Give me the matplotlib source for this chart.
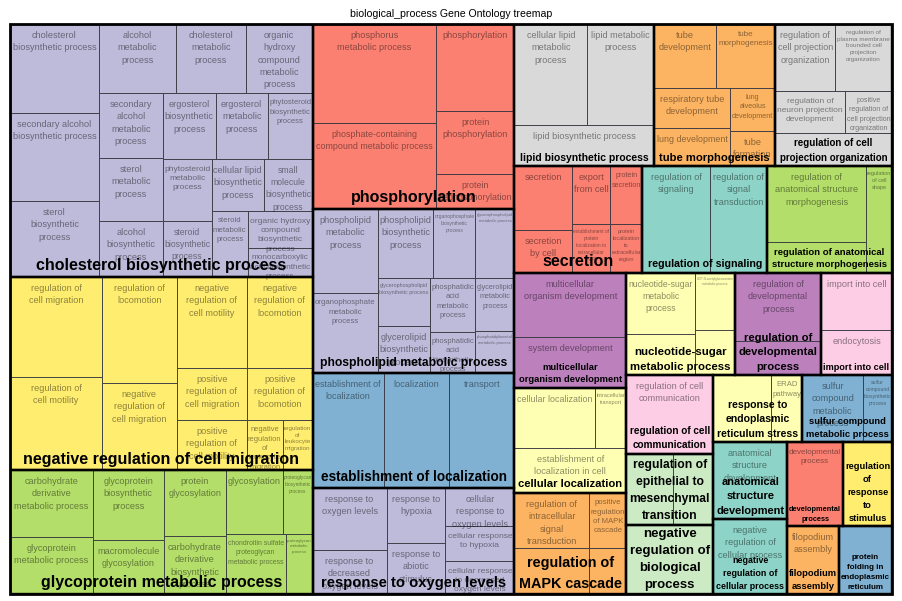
import matplotlib
matplotlib.use("Agg")
import matplotlib.pyplot as plt
from matplotlib.patches import Rectangle

plt.rcParams['font.family'] = ['Liberation Sans', 'DejaVu Sans']

# ---- data -------------------------------------------------------------
title = "biological_process Gene Ontology treemap"

group_labels = [
    "cholesterol biosynthetic process",
    "negative regulation of cell migration",
    "glycoprotein metabolic process",
    "phosphorylation",
    "phospholipid metabolic process",
    "establishment of localization",
    "response to oxygen levels",
    "lipid biosynthetic process",
    "tube morphogenesis",
    "regulation of cell\nprojection organization",
    "secretion",
    "regulation of signaling",
    "regulation of anatomical\nstructure morphogenesis",
    "multicellular\norganism development",
    "cellular localization",
    "regulation of\nMAPK cascade",
    "nucleotide-sugar\nmetabolic process",
    "regulation of\ndevelopmental\nprocess",
    "import into cell",
    "regulation of cell\ncommunication",
    "regulation of\nepithelial to\nmesenchymal\ntransition",
    "negative\nregulation of\nbiological\nprocess",
    "response to\nendoplasmic\nreticulum stress",
    "sulfur compound\nmetabolic process",
    "anatomical\nstructure\ndevelopment",
    "negative\nregulation of\ncellular process",
    "developmental\nprocess",
    "regulation\nof\nresponse\nto\nstimulus",
    "filopodium\nassembly",
    "protein\nfolding in\nendoplasmic\nreticulum",
]

term_labels = [
    ["cholesterol\nbiosynthetic process", "secondary alcohol\nbiosynthetic process",
     "sterol\nbiosynthetic\nprocess", "alcohol\nmetabolic\nprocess",
     "cholesterol\nmetabolic\nprocess", "organic\nhydroxy\ncompound\nmetabolic\nprocess",
     "secondary\nalcohol\nmetabolic\nprocess", "sterol\nmetabolic\nprocess",
     "alcohol\nbiosynthetic\nprocess", "ergosterol\nbiosynthetic\nprocess",
     "ergosterol\nmetabolic\nprocess", "phytosteroid\nbiosynthetic\nprocess",
     "phytosteroid\nmetabolic\nprocess", "steroid\nbiosynthetic\nprocess",
     "cellular lipid\nbiosynthetic\nprocess", "small\nmolecule\nbiosynthetic\nprocess",
     "steroid\nmetabolic\nprocess", "organic hydroxy\ncompound\nbiosynthetic\nprocess",
     "monocarboxylic\nacid biosynthetic\nprocess"],
    ["regulation of\ncell migration", "regulation of\ncell motility",
     "regulation of\nlocomotion", "negative\nregulation of\ncell migration",
     "negative\nregulation of\ncell motility", "negative\nregulation of\nlocomotion",
     "positive\nregulation of\ncell migration", "positive\nregulation of\nlocomotion",
     "positive\nregulation of\ncell motility", "negative\nregulation\nof\nleukocyte\nmigration",
     "regulation\nof\nleukocyte\nmigration"],
    ["carbohydrate\nderivative\nmetabolic process", "glycoprotein\nmetabolic process",
     "glycoprotein\nbiosynthetic\nprocess", "macromolecule\nglycosylation",
     "protein\nglycosylation", "carbohydrate\nderivative\nbiosynthetic\nprocess",
     "glycosylation", "proteoglycan\nbiosynthetic\nprocess",
     "chondroitin sulfate\nproteoglycan\nmetabolic process", "proteoglycan\nmetabolic\nprocess"],
    ["phosphorus\nmetabolic process", "phosphate-containing\ncompound metabolic process",
     "phosphorylation", "protein\nphosphorylation", "protein\ndephosphorylation"],
    ["phospholipid\nmetabolic\nprocess", "organophosphate\nmetabolic\nprocess",
     "phospholipid\nbiosynthetic\nprocess", "organophosphate\nbiosynthetic\nprocess",
     "glycerophospholipid\nmetabolic process", "glycerophospholipid\nbiosynthetic process",
     "glycerolipid\nbiosynthetic\nprocess", "phosphatidic\nacid\nmetabolic\nprocess",
     "phosphatidic\nacid\nbiosynthetic\nprocess", "glycerolipid\nmetabolic\nprocess",
     "phosphatidylinositol\nmetabolic process"],
    ["establishment of\nlocalization", "localization", "transport"],
    ["response to\noxygen levels", "response to\ndecreased\noxygen levels",
     "response to\nhypoxia", "response to\nabiotic\nstimulus",
     "cellular\nresponse to\noxygen levels", "cellular response\nto hypoxia",
     "cellular response\nto decreased\noxygen levels"],
    ["cellular lipid\nmetabolic\nprocess", "lipid metabolic\nprocess", "lipid biosynthetic process"],
    ["tube\ndevelopment", "tube\nmorphogenesis", "respiratory tube\ndevelopment",
     "lung development", "lung\nalveolus\ndevelopment", "tube\nformation"],
    ["regulation of\ncell projection\norganization",
     "regulation of\nplasma membrane\nbounded cell\nprojection\norganization",
     "regulation of\nneuron projection\ndevelopment",
     "positive\nregulation of\ncell projection\norganization", ""],
    ["secretion", "secretion\nby cell", "export\nfrom cell",
     "establishment of\nprotein\nlocalization to\nextracellular\nregion",
     "protein\nsecretion", "protein\nlocalization\nto\nextracellular\nregion"],
    ["regulation of\nsignaling", "regulation of\nsignal\ntransduction"],
    ["regulation of\nanatomical structure\nmorphogenesis", "", "regulation\nof cell\nshape"],
    ["multicellular\norganism development", "system development"],
    ["cellular localization", "intracellular\ntransport", "establishment of\nlocalization in cell"],
    ["regulation of\nintracellular\nsignal\ntransduction", "",
     "positive\nregulation\nof MAPK\ncascade", ""],
    ["nucleotide-sugar\nmetabolic\nprocess", "",
     "UDP-N-acetylglucosamine\nmetabolic process", ""],
    ["regulation of\ndevelopmental\nprocess", ""],
    ["import into cell", "endocytosis"],
    ["regulation of cell\ncommunication"],
    ["", ""],
    [""],
    ["", "ERAD\npathway"],
    ["sulfur\ncompound\nmetabolic\nprocess", "sulfur\ncompound\nbiosynthetic\nprocess"],
    ["anatomical\nstructure\ndevelopment"],
    ["negative\nregulation of\ncellular process"],
    ["developmental\nprocess"],
    [""],
    ["filopodium\nassembly"],
    [""],
]

term_sizes = [
    [79.2, 78.3, 67.6, 53.1, 48.3, 46.2, 41.6, 40.3, 35.8, 35.0, 34.3, 29.7,
     30.4, 27.4, 27.0, 25.5, 23.8, 24.1, 18.9],
    [92.0, 85.6, 79.5, 65.3, 63.7, 60.1, 36.4, 34.3, 35.0, 18.0, 15.0],
    [55.6, 47.3, 49.7, 38.3, 40.9, 36.0, 36.5, 19.2, 36.0, 16.2],
    [122.8, 106.6, 67.9, 49.1, 27.3],
    [54.6, 52.0, 38.6, 29.0, 26.9, 25.4, 24.9, 24.3, 18.5, 20.7, 16.4],
    [81.7, 75.9, 74.8],
    [45.9, 32.6, 32.5, 30.1, 26.2, 24.2, 22.8],
    [73.7, 67.7, 57.4],
    [39.7, 37.8, 30.4, 28.9, 19.4, 15.8],
    [40.2, 38.2, 29.4, 19.7, 38.6],
    [37.1, 24.9, 22.0, 18.6, 18.6, 15.7],
    [72.8, 61.0],
    [75.2, 30.7, 27.8],
    [71.7, 57.1],
    [48.6, 18.6, 50.4],
    [41.3, 34.5, 20.4, 17.0],
    [42.1, 28.3, 22.8, 18.0],
    [58.5, 29.2],
    [40.5, 32.0],
    [68.7],
    [33.4, 28.4],
    [60.0],
    [38.9, 20.8],
    [40.9, 19.4],
    [57.0],
    [55.5],
    [47.0],
    [41.2],
    [35.4],
    [36.0],
]

# split structure: 'h' = side by side, 'v' = stacked; ints index into the lists
group_trees = [
    ('h', [('v', [0, 1, 2]),
           ('v', [('h', [3, 4, 5]),
                  ('h', [('v', [6, 7, 8]),
                         ('v', [('h', [9, 10, 11]),
                                ('h', [('v', [12, 13]),
                                       ('v', [('h', [14, 15]),
                                              ('h', [16, ('v', [17, 18])])])])])])])]),
    ('h', [('v', [0, 1]), ('v', [2, 3]), ('v', [('h', [4, 5]), ('h', [6, 7]), ('h', [8, 9, 10])])]),
    ('h', [('v', [0, 1]), ('v', [2, 3]), ('v', [4, 5]), ('v', [('h', [6, 7]), ('h', [8, 9])])]),
    ('h', [('v', [0, 1]), ('v', [2, 3, 4])]),
    ('h', [('v', [0, 1]), ('v', [('h', [2, 3, 4]), ('h', [('v', [5, 6]), ('v', [7, 8]), ('v', [9, 10])])])]),
    ('h', [0, 1, 2]),
    ('h', [('v', [0, 1]), ('v', [2, 3]), ('v', [4, 5, 6])]),
    ('v', [('h', [0, 1]), 2]),
    ('v', [('h', [0, 1]), ('h', [('v', [2, 3]), ('v', [4, 5])])]),
    ('v', [('h', [0, 1]), ('h', [2, 3]), 4]),
    ('h', [('v', [0, 1]), ('v', [2, 3]), ('v', [4, 5])]),
    ('h', [0, 1]),
    ('h', [('v', [0, 1]), 2]),
    ('v', [0, 1]),
    ('v', [('h', [0, 1]), 2]),
    ('h', [('v', [0, 1]), ('v', [2, 3])]),
    ('h', [('v', [0, 1]), ('v', [2, 3])]),
    ('v', [0, 1]),
    ('v', [0, 1]),
    0,
    ('h', [0, 1]),
    0,
    ('h', [0, 1]),
    ('h', [0, 1]),
    0, 0, 0, 0, 0, 0,
]

top_tree = ('h', [
    ('v', [0, 1, 2]),
    ('v', [3, 4, 5, 6]),
    ('v', [('h', [7, 8, 9]),
           ('h', [10, 11, 12]),
           ('h', [('v', [13, 14, 15]),
                  ('v', [('h', [16, 17, 18]),
                         ('h', [('v', [19, 20, 21]),
                                ('v', [('h', [22, 23]),
                                       ('h', [('v', [24, 25]),
                                              ('v', [('h', [26, 27]), ('h', [28, 29])])])])])])])]),
])

# ---- style ------------------------------------------------------------
set3 = {'teal': '#8DD3C7', 'lyellow': '#FFFFB3', 'lavender': '#BEBADA', 'salmon': '#FB8072',
        'blue': '#80B1D3', 'orange': '#FDB462', 'green': '#B3DE69', 'pink': '#FCCDE5',
        'grey': '#D9D9D9', 'purple': '#BC80BD', 'lgreen': '#CCEBC5', 'yellow': '#FFED6F'}
group_color_keys = ['lavender', 'yellow', 'green', 'salmon', 'lavender', 'blue', 'lavender',
                    'grey', 'orange', 'grey', 'salmon', 'teal', 'green', 'purple', 'lyellow',
                    'orange', 'lyellow', 'purple', 'pink', 'pink', 'lgreen', 'lgreen', 'lyellow',
                    'blue', 'teal', 'teal', 'salmon', 'yellow', 'orange', 'blue']


def tree_size(node, sizes):
    if isinstance(node, int):
        return sizes[node]
    return sum(tree_size(k, sizes) for k in node[1])


def layout(node, x, y, w, h, sizes, out):
    # recursive slice layout, each part proportional to its summed size
    if isinstance(node, int):
        out[node] = (x, y, w, h)
        return
    d, kids = node
    tot = [tree_size(k, sizes) for k in kids]
    T = sum(tot)
    pos = 0.0
    for k, s in zip(kids, tot):
        if d == 'h':
            layout(k, x + w * pos / T, y, w * s / T, h, sizes, out)
        else:
            layout(k, x, y + h * pos / T, w, h * s / T, sizes, out)
        pos += s


W_FIG, H_FIG = 902, 601
L, R, TOP, BOT = 10, 892, 24, 594
PX2PT = 72 / 100

fig = plt.figure(figsize=(W_FIG / 100, H_FIG / 100), dpi=100)
ax = fig.add_axes([L / W_FIG, 1 - BOT / H_FIG, (R - L) / W_FIG, (BOT - TOP) / H_FIG])
ax.set_xlim(0, R - L)
ax.set_ylim(BOT - TOP, 0)
ax.axis('off')
renderer = fig.canvas.get_renderer()


def fit_px(t, width, frac, max_px):
    # font size (pixels) so the widest line takes `frac` of the box width
    t.set_fontsize(10)
    bw = t.get_window_extent(renderer).width
    return min(max_px, (10 / PX2PT) * frac * width / bw)


group_sizes = [sum(s) for s in term_sizes]
group_rects = {}
layout(top_tree, 0, 0, R - L, BOT - TOP, group_sizes, group_rects)

for g, rect in group_rects.items():
    col = set3[group_color_keys[g]]
    cells = {}
    layout(group_trees[g], *rect, term_sizes[g], cells)
    for i, (x, y, w, h) in cells.items():
        ax.add_patch(Rectangle((x, y), w, h, facecolor=col, edgecolor='#35353f',
                               linewidth=0.6, zorder=1))
        lab = term_labels[g][i]
        if lab:
            t = ax.text(x + w / 2, y, lab, ha='center', va='top', color='black',
                        alpha=0.45, linespacing=1.47, zorder=2)
            fs_px = fit_px(t, w, 0.93, 9.2)
            t.set_fontsize(fs_px * PX2PT)
            t.set_y(y + 2.5 + 0.5 * fs_px)

for g, (x, y, w, h) in group_rects.items():
    ax.add_patch(Rectangle((x, y), w, h, facecolor='none', edgecolor='black',
                           linewidth=1.7, zorder=3))
    t = ax.text(x + w / 2, y + h - 3.5, group_labels[g], ha='center', va='bottom',
                fontweight='bold', color='black', linespacing=1.55, zorder=4)
    fs_px = fit_px(t, w, 0.92, 16.0)
    t.set_fontsize(fs_px * PX2PT)

ax.add_patch(Rectangle((0, 0), R - L, BOT - TOP, facecolor='none', edgecolor='black',
                       linewidth=2.0, zorder=5, clip_on=False))

fig.text(0.5, 1 - 14 / H_FIG, title, ha='center', va='center', fontsize=7.6)

fig.savefig("out.png", dpi=100)
